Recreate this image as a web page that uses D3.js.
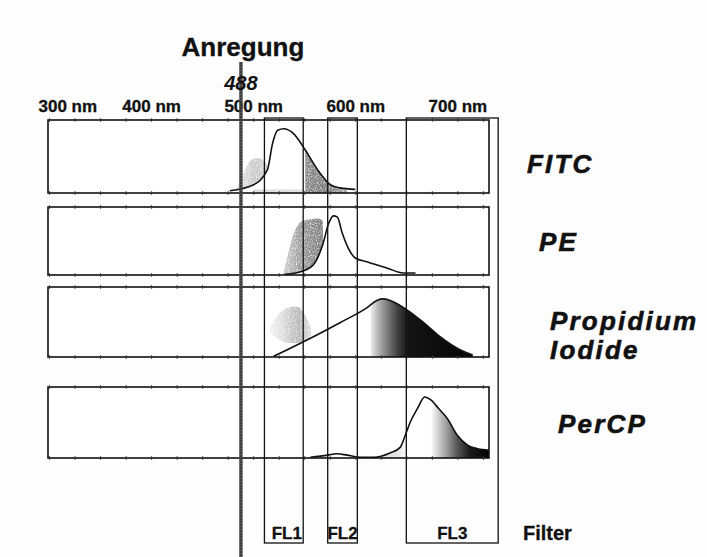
<!DOCTYPE html>
<html><head><meta charset="utf-8">
<script src="https://cdn.jsdelivr.net/npm/d3@7"></script>
<style>
html,body{margin:0;padding:0;background:#fff;}
svg{display:block;font-family:"Liberation Sans",Arial,Helvetica,sans-serif;}
</style></head><body>
<svg id="chart" width="707" height="557"></svg>
<script>
// Wavelength axis
const tickValues = [300, 400, 500, 600, 700];
const tickLabels = ["300 nm", "400 nm", "500 nm", "600 nm", "700 nm"];

// Excitation laser line
const excitationNm = 488;
const excitationTitle = "Anregung";

// Dye names (one panel each)
const dyeNames = ["FITC", "PE", "Propidium Iodide", "PerCP"];

// Emission spectra: [wavelength nm, relative intensity 0..1]
const fitcEmission = [[477,.03],[500,.11],[514,.32],[519,.68],[524,.86],[530,.88],[539,.82],[551,.59],[563,.32],[576,.11],[585,.07],[600,.05]];
const peEmission = [[531,.01],[549,.06],[559,.15],[568,.44],[574,.76],[578.5,.87],[582.5,.85],[587,.63],[593,.40],[600,.25],[612,.19],[631.5,.10],[647,.03],[659,.03]];
const piEmission = [[520,.01],[559,.29],[585,.49],[612,.71],[621.5,.81],[627.5,.83],[637,.79],[651,.67],[667,.49],[683,.29],[703,.10],[715,.03]];
const percpEmission = [[556,.01],[573,.04],[582,.06],[592,.04],[605,.01],[618,.01],[634,.07],[644,.15],[649,.32],[654,.51],[661,.70],[668,.86],[674,.82],[681.5,.70],[690,.56],[700,.32],[710,.18],[720,.13],[731,.11]];

// Shaded absorption regions lying above the emission curve: [nm, upper, lower]
const fitcAbsorption = [[482,.04,0],[490,.25,0],[497,.44,0],[504,.48,0],[510,.45,0],[515,.36,0],[518,.30,0]];
const peAbsorption = [[529,0,0],[534,.30,0],[539,.58,0],[544,.74,0],[549,.80,0],[556,.82,0],[563,.83,0],[568,.80,0],[569,0,0]];
const piAbsorption = [[516,.42,.35],[524,.60,.26],[533,.70,.20],[543,.72,.20],[550,.62,.22],[557,.40,.25]];

// Shaded bands under the emission curve: [from nm, to nm]
const fitcSpillBand = [551, 592];
const fitcBaseBand = [500, 548];
const piTailBand = [615, 731];
const percpTailBand = [598, 731];

// Detector filters
const filterNames = ["FL1", "FL2", "FL3"];
const filterBands = [[511, 549], [573, 602], [650, 740]];
const filterTitle = "Filter";

// ---------------------------------------------------------------
const svg = d3.select("#chart");
const W = 707, H = 557;
svg.append("rect").attr("width", W).attr("height", H).attr("fill", "#fdfdfd");

const x = d3.scaleLinear().domain([299, 731]).range([48, 489]);

const rows = [
  {top: 120, bottom: 193},
  {top: 207, bottom: 275},
  {top: 287, bottom: 357},
  {top: 387, bottom: 458}
];

const defs = svg.append("defs");

// speckled print texture for the shaded areas
const grain = defs.append("filter").attr("id", "grain")
  .attr("x", 0).attr("y", 0).attr("width", 1).attr("height", 1);
grain.append("feTurbulence").attr("type", "fractalNoise")
  .attr("baseFrequency", 0.85).attr("numOctaves", 2).attr("seed", 3).attr("result", "n");
grain.append("feColorMatrix").attr("in", "n").attr("type", "matrix")
  .attr("values", "0 0 0 0 0  0 0 0 0 0  0 0 0 0 0  2.2 0 0 0 -0.2").attr("result", "a");
grain.append("feComposite").attr("in", "SourceGraphic").attr("in2", "a").attr("operator", "in");

function gradient(id, stops) {
  const g = defs.append("linearGradient").attr("id", id)
    .attr("gradientUnits", "userSpaceOnUse")
    .attr("x1", x(stops[0][0])).attr("x2", x(stops[stops.length - 1][0]))
    .attr("y1", 0).attr("y2", 0);
  const a = stops[0][0], b = stops[stops.length - 1][0];
  stops.forEach(s => g.append("stop").attr("offset", (s[0] - a) / (b - a)).attr("stop-color", s[1]));
  return `url(#${id})`;
}

const panels = [
  {
    emission: fitcEmission,
    over: [{data: fitcAbsorption, fill: gradient("gFitcA", [[482,"#ececec"],[502,"#c8c8c8"],[518,"#d0d0d0"]]), grain: true}],
    under: [
      {band: fitcBaseBand, top: .05, fill: "#dadada", grain: true},
      {band: fitcSpillBand, top: 1, fill: gradient("gFitcS", [[551,"#8a8a8a"],[570,"#7c7c7c"],[592,"#a8a8a8"]]), grain: true}
    ]
  },
  {
    emission: peEmission,
    over: [{data: peAbsorption, fill: gradient("gPeA", [[529,"#d4d4d4"],[545,"#a0a0a0"],[569,"#7a7a7a"]]), grain: true}],
    under: []
  },
  {
    emission: piEmission,
    over: [{data: piAbsorption, fill: gradient("gPiA", [[516,"#f4f4f4"],[530,"#dadada"],[545,"#b4b4b4"],[557,"#e0e0e0"]]), grain: true}],
    under: [{band: piTailBand, top: 1, fill: gradient("gPiT", [[615,"#eeeeee"],[622,"#b8b8b8"],[632,"#777777"],[642,"#3e3e3e"],[652,"#141414"],[731,"#000000"]]), grain: false}]
  },
  {
    emission: percpEmission,
    over: [],
    under: [{band: percpTailBand, top: 1, fill: gradient("gPcT", [[598,"#dddddd"],[640,"#e2e2e2"],[652,"#ffffff"],[674,"#ffffff"],[681,"#d2d2d2"],[690,"#9a9a9a"],[700,"#555555"],[712,"#1c1c1c"],[731,"#000000"]]), grain: false}]
  }
];

// ---- panels
panels.forEach((p, i) => {
  const r = rows[i];
  const y = d3.scaleLinear().domain([0, 1]).range([r.bottom, r.top]);
  const line = d3.line().x(d => x(d[0])).y(d => y(d[1])).curve(d3.curveMonotoneX);
  const underArea = d3.area().x(d => x(d[0])).y0(y(0)).y1(d => y(d[1])).curve(d3.curveMonotoneX);
  const g = svg.append("g");

  g.append("rect").attr("x", x.range()[0]).attr("y", r.top)
    .attr("width", x.range()[1] - x.range()[0]).attr("height", r.bottom - r.top)
    .attr("fill", "#fff");

  // clip regions below / above the emission curve
  const x0 = x.range()[0], x1 = x.range()[1];
  defs.append("clipPath").attr("id", `under${i}`)
    .append("path").attr("d", underArea(p.emission));
  defs.append("clipPath").attr("id", `over${i}`)
    .append("path").attr("clip-rule", "evenodd")
    .attr("d", `M${x0},${r.top}H${x1}V${r.bottom}H${x0}Z` + underArea(p.emission));

  p.under.forEach(s => {
    g.append("rect")
      .attr("x", x(s.band[0])).attr("width", x(s.band[1]) - x(s.band[0]))
      .attr("y", y(s.top)).attr("height", y(0) - y(s.top))
      .attr("fill", s.fill)
      .attr("clip-path", `url(#under${i})`)
      .attr("filter", s.grain ? "url(#grain)" : null);
  });

  p.over.forEach(s => {
    const area = d3.area().x(d => x(d[0])).y0(d => y(d[2])).y1(d => y(d[1])).curve(d3.curveMonotoneX);
    g.append("g").attr("clip-path", `url(#over${i})`)
      .append("path").attr("d", area(s.data))
      .attr("fill", s.fill)
      .attr("filter", s.grain ? "url(#grain)" : null);
  });

  g.append("path").attr("d", line(p.emission))
    .attr("fill", "none").attr("stroke", "#111").attr("stroke-width", 1.6)
    .attr("stroke-linejoin", "round");

  g.append("rect").attr("x", x0).attr("y", r.top)
    .attr("width", x1 - x0).attr("height", r.bottom - r.top)
    .attr("fill", "none").attr("stroke", "#111").attr("stroke-width", 1.6);

  // small ticks on the frame edges
  const minor = d3.range(300, 731, 25);
  [r.top, r.bottom].forEach(yy => {
    [d3.axisTop(x), d3.axisBottom(x)].forEach(ax => {
      svg.append("g").attr("transform", `translate(0,${yy})`)
        .call(ax.tickValues(minor).tickSize(1.8).tickFormat(""))
        .call(s => s.select(".domain").remove())
        .call(s => s.selectAll("line").attr("stroke", "#333").attr("stroke-width", 1));
    });
  });
});

// ---- filter boxes
filterBands.forEach((b, i) => {
  svg.append("rect").attr("x", x(b[0])).attr("y", 118)
    .attr("width", x(b[1]) - x(b[0])).attr("height", 543 - 118)
    .attr("fill", "none").attr("stroke", "#111").attr("stroke-width", 1.3);
  svg.append("text").attr("x", (x(b[0]) + x(b[1])) / 2 + (i === 0 ? 3 : 0)).attr("y", 539)
    .attr("text-anchor", "middle").attr("font-weight", "bold").attr("font-size", 17)
    .attr("fill", "#111").attr("stroke", "#111").attr("stroke-width", 0.3).text(filterNames[i]);
});
svg.append("text").attr("x", 523).attr("y", 540).attr("font-weight", "bold")
  .attr("font-size", 20).attr("fill", "#111").attr("stroke", "#111").attr("stroke-width", 0.3)
  .text(filterTitle);

// ---- wavelength labels
const axisTop = svg.append("g").attr("transform", "translate(0,112)")
  .call(d3.axisTop(x).tickValues(tickValues).tickSize(0).tickPadding(0)
    .tickFormat((d, i) => tickLabels[i]));
axisTop.select(".domain").remove();
axisTop.selectAll("text")
  .attr("font-family", "Liberation Sans, Arial, sans-serif")
  .attr("font-size", 17).attr("font-weight", "bold").attr("fill", "#111")
  .attr("stroke", "#111").attr("stroke-width", 0.3)
  .attr("dy", 0)
  .attr("text-anchor", (d, i) => i === 0 ? "start" : "middle")
  .attr("dx", (d, i) => i === 0 ? -11 : 0);

// ---- excitation line
svg.append("line").attr("x1", x(excitationNm)).attr("x2", x(excitationNm))
  .attr("y1", 62).attr("y2", H)
  .attr("stroke", "#4d4d4d").attr("stroke-width", 3.6).attr("opacity", 0.92);
svg.append("line").attr("x1", x(excitationNm)).attr("x2", x(excitationNm))
  .attr("y1", 62).attr("y2", H)
  .attr("stroke", "#2a2a2a").attr("stroke-width", 1.2).attr("stroke-dasharray", "2 1");

svg.append("text").attr("x", x(excitationNm) + 2).attr("y", 56)
  .attr("text-anchor", "middle").attr("font-weight", "bold").attr("font-size", 26)
  .attr("fill", "#111").attr("stroke", "#111").attr("stroke-width", 0.3).text(excitationTitle);
svg.append("text").attr("x", x(excitationNm)).attr("y", 90)
  .attr("text-anchor", "middle").attr("font-weight", "bold").attr("font-style", "italic")
  .attr("font-size", 20).attr("fill", "#111").text(excitationNm);

// ---- dye names
const namePos = [
  [[527, 173]],
  [[539, 251]],
  [[550, 330], [550, 359]],
  [[558, 433]]
];
dyeNames.forEach((name, i) => {
  const words = i === 2 ? name.split(" ") : [name];
  words.forEach((w, j) => {
    svg.append("text").attr("x", namePos[i][j][0]).attr("y", namePos[i][j][1])
      .attr("font-weight", "bold").attr("font-style", "italic")
      .attr("font-size", 26).attr("letter-spacing", 2.2)
      .attr("fill", "#111").attr("stroke", "#111").attr("stroke-width", 0.6).text(w);
  });
});
</script>
</body></html>
